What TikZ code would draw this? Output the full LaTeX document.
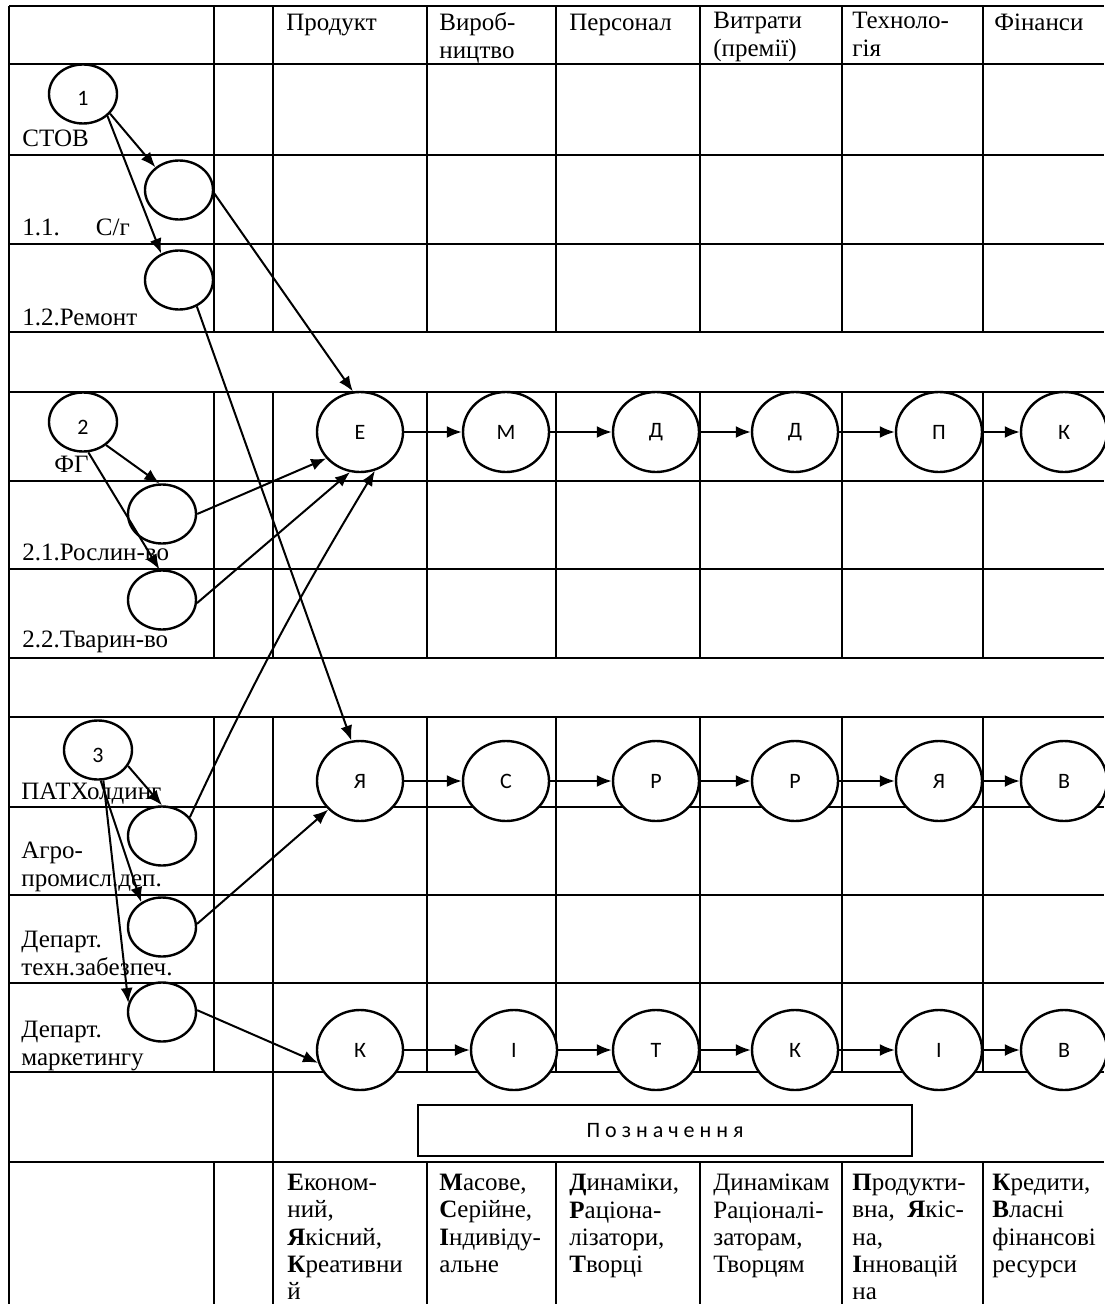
\documentclass[tikz,border=0pt]{standalone}
\usepackage{fontspec}
\setmainfont{Liberation Serif}
\newfontfamily\circfont{Carlito}
\usetikzlibrary{shapes.geometric, arrows.meta, positioning, calc}
\tikzset{
  tabLine/.style={line width=1pt},
  circBox/.style={
    ellipse, draw, line width=1.2pt, fill=white,
    inner sep=0pt, font=\circfont\fontsize{11}{13}\selectfont
  },
  stageNode/.style={circBox, minimum width=43pt, minimum height=40pt},
  unitNode/.style={
    circBox, minimum width=34pt, minimum height=29.5pt,
    text height=12pt, text depth=0pt
  },
  arr/.style={
    -{Latex[length=7.5pt,width=6pt]}, line width=1pt
  },
  rowText/.style={
    anchor=base west, inner sep=0pt,
    font=\fontsize{12.5}{13.9}\selectfont
  },
  cellText/.style={
    anchor=north west, inner sep=0pt, align=left,
    font=\fontsize{12.5}{13.9}\selectfont,
    execute at begin node=\strut
  },
  keyText/.style={
    cellText, font=\fontsize{12.5}{13.6}\selectfont
  },
  legendBox/.style={
    draw, line width=1.2pt, inner sep=0pt,
    minimum width=247pt, minimum height=25.5pt,
    font=\circfont\fontsize{11}{13}\selectfont
  }
}
\begin{document}
\begin{tikzpicture}[x=0.5pt, y=-0.5pt]
\useasboundingbox (0,0) rectangle (1104,1304);

% table lines
\foreach \y in {6,64,155,244,332,392,481,569,658,717,807,895,983,1072,1162}
  \draw[tabLine] (9,\y) -- (1104,\y);
\draw[tabLine] (9,6) -- (9,1304);
\foreach \x in {214,427,556,700,842,983} {
  \draw[tabLine] (\x,6) -- (\x,332);
  \draw[tabLine] (\x,392) -- (\x,658);
  \draw[tabLine] (\x,717) -- (\x,1072);
  \draw[tabLine] (\x,1162) -- (\x,1304);
}
\draw[tabLine] (273,6) -- (273,332);
\draw[tabLine] (273,392) -- (273,658);
\draw[tabLine] (273,717) -- (273,1304);

% column heads
\node[cellText] (hProd) at (286,11) {Продукт};
\node[cellText] (hVyr) at (439,12) {Вироб-\\ництво};
\node[cellText] (hPers) at (569,11) {Персонал};
\node[cellText] (hVytr) at (713,12) {Витрати\\(премії)};
\node[cellText] (hTech) at (852,12) {Техноло-\\гія};
\node[cellText] (hFin) at (994,11) {Фінанси};

% row labels
\node[rowText] (lStov) at (22,147) {СТОВ};
\node[rowText] (lSg) at (22,236) {1.1.\hspace{18pt}С/г};
\node[rowText] (lRem) at (22,326) {1.2.Ремонт};
\node[rowText] (lFg) at (54,472) {ФГ};
\node[rowText] (lRosl) at (22,560) {2.1.Рослин-во};
\node[rowText] (lTvar) at (22,647) {2.2.Тварин-во};
\node[rowText] (lPat) at (21,799) {ПАТХолдинг};
\node[cellText] (lAgro) at (21,842) {Агро-\\промисл.деп.};
\node[cellText] (lTech) at (21,931) {Департ.\\техн.забезпеч.};
\node[cellText] (lMark) at (21,1021) {Департ.\\маркетингу};

% units
\node[unitNode] (u1) at (83,94) {1};
\node[unitNode] (u11) at (179,190) {};
\node[unitNode] (u12) at (179,280) {};
\node[unitNode] (u2) at (83,422) {2};
\node[unitNode] (u21) at (162,514) {};
\node[unitNode] (u22) at (162,600) {};
\node[unitNode] (u3) at (98,750) {3};
\node[unitNode] (u31) at (162,836) {};
\node[unitNode] (u32) at (162,927) {};
\node[unitNode] (u33) at (162,1012) {};

% stage chains
\foreach \x/\t [count=\i] in {360/Е,506/М,656/Д,795/Д,939/П,1064/К}
  \node[stageNode] (a\i) at (\x,432) {\t};
\foreach \x/\t [count=\i] in {360/Я,506/С,656/Р,795/Р,939/Я,1064/В}
  \node[stageNode] (b\i) at (\x,781) {\t};
\foreach \x/\t [count=\i] in {360/К,514/І,656/Т,795/К,939/І,1064/В}
  \node[stageNode] (c\i) at (\x,1050) {\t};
\foreach \i/\j in {1/2,2/3,3/4,4/5,5/6} {
  \draw[arr] (a\i) -- (a\j);
  \draw[arr] (b\i) -- (b\j);
  \draw[arr] (c\i) -- (c\j);
}

% units -> stages
\draw[arr] (u1.-36) -- (u11.136);
\draw[arr] (u1.-42) -- (u12.124);
\draw[arr] (u11.-5) -- (a1.100);
\draw[arr] (u12.-56) -- (b1.102);
\draw[arr] (u2.-45) -- (u21.95);
\draw[arr] (u2.-80) -- (u22.95);
\draw[arr] (u21.0) -- (a1.218);
\draw[arr] (u22.-5) -- (a1.256);
\draw[arr] (u31.34) to[bend left=3] (a1.291);
\draw[arr] (u3.-28) -- (u31.north);
\draw[arr] (u3.-85) -- (u32.130);
\draw[arr] (u3.-80) -- (u33.165);
\draw[arr] (u32.5) -- (b1.222);
\draw[arr] (u33.3) -- (c1.197);

% legend
\node[legendBox] (legend) at (665,1130.5) {П о з н а ч е н н я};
\node[keyText] (dProd) at (287,1174) {\textbf{Е}коном-\\ний,\\\textbf{Я}кісний,\\\textbf{К}реативни\\й};
\node[keyText] (dVyr) at (439,1174) {\textbf{М}асове,\\\textbf{С}ерійне,\\\textbf{І}ндивіду-\\альне};
\node[keyText] (dPers) at (569,1174) {\textbf{Д}инаміки,\\\textbf{Р}аціона-\\лізатори,\\\textbf{Т}ворці};
\node[keyText] (dVytr) at (713,1174) {Динамікам\\Раціоналі-\\заторам,\\Творцям};
\node[keyText] (dTech) at (852,1174) {\textbf{П}родукти-\\вна,\ \ \textbf{Я}кіс-\\на,\\\textbf{І}нновацій\\на};
\node[keyText] (dFin) at (992,1174) {\textbf{К}редити,\\\textbf{В}ласні\\фінансові\\ресурси};

\end{tikzpicture}
\end{document}
